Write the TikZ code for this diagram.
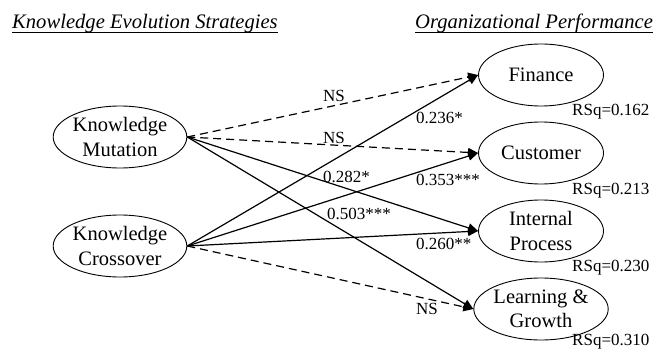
\documentclass[tikz,border=0pt]{standalone}
\usepackage{fontspec}
\setmainfont{Liberation Serif}
\usetikzlibrary{shapes.geometric,arrows.meta}
\tikzset{
  construct/.style={ellipse,draw,line width=0.9pt,minimum width=125pt,minimum height=62pt,inner sep=0pt,align=center,font=\fontsize{20.5}{24.5}\selectfont},
  heading/.style={inner sep=0pt,anchor=base west,font=\fontsize{20.6}{24}\selectfont\itshape},
  coef/.style={inner sep=0pt,anchor=base west,font=\fontsize{17}{20}\selectfont},
  path/.style={line width=1.2pt,-{Triangle[length=10pt,width=9pt]}},
  nspath/.style={path,dash pattern=on 8pt off 5pt},
  uline/.style={line width=0.8pt}
}
\begin{document}
\begin{tikzpicture}[x=1pt,y=-1pt]
\useasboundingbox (0,0) rectangle (658,350);
% headings
\node[heading] (h1) at (12,29) {Knowledge Evolution Strategies};
\node[heading] (h2) at (415,29) {Organizational Performance};
\draw[uline] ([yshift=-3pt]h1.base west) -- ([yshift=-3pt]h1.base east);
\draw[uline] ([yshift=-3pt]h2.base west) -- ([yshift=-3pt]h2.base east);
% constructs
\node[construct] (km) at (120,137) {Knowledge\\Mutation};
\node[construct] (kc) at (120,246) {Knowledge\\Crossover};
\node[construct] (fin) at (541,75) {Finance};
\node[construct] (cus) at (541,153) {Customer};
\node[construct] (ip) at (541,231) {Internal\\Process};
\node[construct] (lg) at (541,309) {Learning \&\\Growth};
% R squared
\node[coef] (r1) at (572,116) {RSq=0.162};
\node[coef] (r2) at (572,194) {RSq=0.213};
\node[coef] (r3) at (572,271) {RSq=0.230};
\node[coef] (r4) at (572,345.5) {RSq=0.310};
% paths
\draw[nspath] (km.east) -- (fin.west);
\draw[nspath] (km.east) -- (cus.west);
\draw[path] (km.east) -- (ip.west);
\draw[path] (km.east) -- (lg.west);
\draw[path] (kc.east) -- (fin.west);
\draw[path] (kc.east) -- (cus.west);
\draw[path] (kc.east) -- (ip.west);
\draw[nspath] (kc.east) -- (lg.west);
% coefficients
\node[coef] (c1) at (323,102) {NS};
\node[coef] (c2) at (323,143) {NS};
\node[coef] (c3) at (416,124) {0.236*};
\node[coef] (c4) at (323,182) {0.282*};
\node[coef] (c5) at (416,185) {0.353***};
\node[coef] (c6) at (327,219) {0.503***};
\node[coef] (c7) at (416,249) {0.260**};
\node[coef] (c8) at (416,314) {NS};
\end{tikzpicture}
\end{document}
